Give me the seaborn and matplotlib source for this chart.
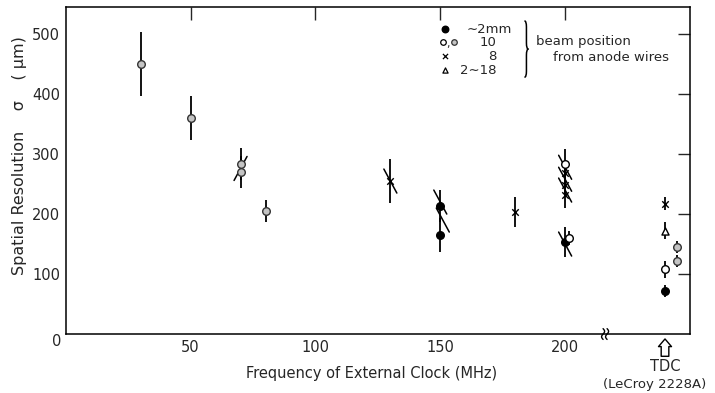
import numpy as np
import matplotlib
matplotlib.use('Agg')
import matplotlib.pyplot as plt
from matplotlib.path import Path
from matplotlib.patches import PathPatch
import pandas as pd
import seaborn as sns

# measured points: frequency (MHz), resolution (um), half error (um), marker kind
# TDC column is placed at 240/245 on the frequency axis (beyond the axis break)
freq = [30, 50, 70, 70, 80, 130, 150, 150, 180,
        200, 200, 200, 200, 201.5, 200,
        240, 240, 240, 240, 245, 245]
sigma = [450, 360, 283, 270, 205, 255, 213, 165, 203,
         283, 268, 248, 232, 160, 153,
         217, 172, 108, 72, 145, 122]
err = [54, 37, 27, 26, 18, 37, 27, 28, 25,
       25, 18, 18, 22, 12, 25,
       11, 14, 14, 10, 10, 10]
kind = ['dot', 'dot', 'dot', 'dot', 'dot', 'cross', 'filled', 'filled', 'cross',
        'open', 'cross', 'cross', 'cross', 'open', 'filled',
        'cross', 'tri', 'open', 'filled', 'dot', 'dot']

# diagonal strokes drawn through some of the points (+1 = '/', -1 = '\')
slash_x = [70, 130, 150, 151, 200, 200, 200, 200]
slash_y = [276, 255, 220, 190, 278, 258, 240, 150]
slash_dir = [1, -1, -1, -1, -1, -1, -1, -1]

x_ticks = [50, 100, 150, 200]
y_ticks = [100, 200, 300, 400, 500]

styles = {
    'filled': dict(marker='o', s=30, color='black', edgecolor='black'),
    'open': dict(marker='o', s=30, color='white', edgecolor='black'),
    'dot': dict(marker='o', s=30, color='#c4c4c4', edgecolor='#333333'),
    'cross': dict(marker='x', s=22, color='black', linewidth=1),
    'tri': dict(marker='^', s=26, color='white', edgecolor='black'),
}


def draw_brace(ax, x, y0, y1, w, q):
    ym = (y0 + y1) / 2
    verts = [(x - w, y1), (x, y1), (x, y1 - q),
             (x, ym + q),
             (x, ym), (x + w, ym),
             (x, ym), (x, ym - q),
             (x, y0 + q),
             (x, y0), (x - w, y0)]
    codes = [Path.MOVETO, Path.CURVE3, Path.CURVE3,
             Path.LINETO,
             Path.CURVE3, Path.CURVE3,
             Path.CURVE3, Path.CURVE3,
             Path.LINETO,
             Path.CURVE3, Path.CURVE3]
    ax.add_patch(PathPatch(Path(verts, codes), fill=False, lw=1.1,
                           edgecolor='black'))


def plot_resolution() -> None:
    sns.set_theme(style='white')
    plt.rcParams['font.family'] = ['DejaVu Sans']

    df = pd.DataFrame({'freq': freq, 'sigma': sigma, 'err': err, 'kind': kind})

    fig = plt.figure(figsize=(7.15, 3.93), dpi=100)
    ax = fig.add_axes([0.092, 0.150, 0.873, 0.832])

    ax.errorbar(df['freq'], df['sigma'], yerr=df['err'], fmt='none',
                ecolor='black', elinewidth=1.3, capsize=0, zorder=2)

    for k, st in styles.items():
        sub = df[df['kind'] == k]
        if k == 'cross':
            sns.scatterplot(data=sub, x='freq', y='sigma', ax=ax, zorder=3,
                            legend=False, **st)
        else:
            sns.scatterplot(data=sub, x='freq', y='sigma', ax=ax, zorder=3,
                            legend=False, linewidth=1, **st)

    for x, y, d in zip(slash_x, slash_y, slash_dir):
        ax.plot([x - 2.6 * d, x + 2.6 * d], [y - 20, y + 20],
                color='black', lw=1.1, zorder=2)

    ax.set_xlim(0, 250)
    ax.set_ylim(0, 545)
    ax.set_xticks(x_ticks)
    ax.set_yticks(y_ticks)
    ax.set_xticklabels([str(t) for t in x_ticks])
    ax.set_yticklabels([str(t) for t in y_ticks])
    ax.tick_params(axis='both', direction='in', length=9, width=1,
                   top=True, right=True, labelsize=10.5, pad=4)

    for spine in ax.spines.values():
        spine.set_color('black')
        spine.set_linewidth(1.1)

    ax.set_xlabel('Frequency of External Clock (MHz)', fontsize=10.5)
    ax.xaxis.set_label_coords(0.49, -0.098)
    ax.set_ylabel('Spatial Resolution    σ    ( μm)', fontsize=11.5)
    ax.yaxis.set_label_coords(-0.062, 0.547)

    ax.text(-0.014, -0.022, '0', transform=ax.transAxes, ha='center',
            va='center', fontsize=10.5)

    # axis break mark
    t = np.linspace(-1, 1, 30)
    for off in (-0.8, 0.8):
        ax.plot(216 + off + 0.6 * np.sin(np.pi * t), 9 * t, color='black',
                lw=1, clip_on=False, zorder=4)

    # TDC label under the axis
    xt = ax.get_xaxis_transform()
    ax.annotate('', xy=(240, -0.015), xycoords=xt,
                xytext=(240, -0.068), textcoords=xt,
                arrowprops=dict(arrowstyle='simple,head_length=0.5,'
                                           'head_width=0.85,tail_width=0.5',
                                mutation_scale=11, fc='white', ec='black',
                                lw=1, shrinkA=0, shrinkB=0))
    ax.text(240, -0.1, 'TDC', transform=xt, ha='center', va='center',
            fontsize=10.5)
    ax.text(236, -0.153, '(LeCroy 2228A)', transform=xt, ha='center',
            va='center', fontsize=9.5)

    # hand-made legend
    ax.scatter([152], [508], marker='o', s=22, color='black')
    ax.scatter([151], [486], marker='o', s=16, color='white',
               edgecolor='black', linewidth=0.9)
    ax.text(153.2, 483, ',', ha='center', va='center', fontsize=8)
    ax.scatter([155.5], [486], marker='o', s=16, color='#c4c4c4',
               edgecolor='#333333', linewidth=0.9)
    ax.scatter([152], [463], marker='x', s=14, color='black', linewidth=0.9)
    ax.scatter([152], [440], marker='^', s=14, color='white',
               edgecolor='black', linewidth=0.9)
    ax.text(160.5, 508, '∼2mm', ha='left', va='center', fontsize=9.5)
    ax.text(172.5, 486, '10', ha='right', va='center', fontsize=9.5)
    ax.text(172.5, 463, '8', ha='right', va='center', fontsize=9.5)
    ax.text(172.5, 440, '2∼18', ha='right', va='center', fontsize=9.5)
    draw_brace(ax, 184.5, 428, 522, 0.8, 10)
    ax.text(188.5, 488, 'beam position', ha='left', va='center', fontsize=9.5)
    ax.text(195, 461, 'from anode wires', ha='left', va='center', fontsize=9.5)

    fig.savefig('out.png', dpi=100)
    plt.close(fig)


plot_resolution()
